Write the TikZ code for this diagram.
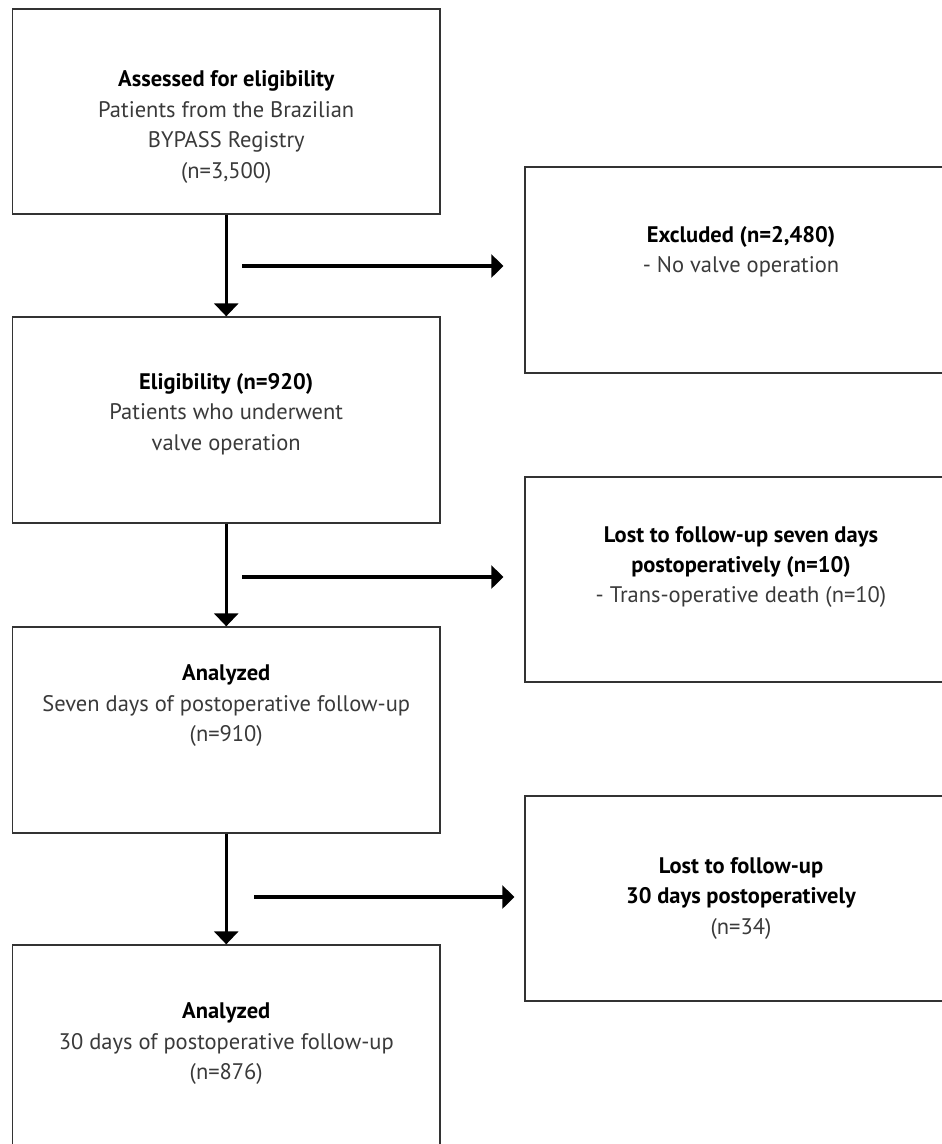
\documentclass[tikz,border=0pt]{standalone}
\usepackage{fontspec}
\setmainfont{PT Sans}
\usetikzlibrary{arrows.meta}
\definecolor{boxline}{HTML}{333333}
\definecolor{txt}{HTML}{3A3A3A}
\tikzset{
  box/.style={draw=boxline, line width=1.3pt, fill=white, inner sep=0pt},
  lbl/.style={align=center, inner sep=0pt, text=txt, font=\fontsize{22.5}{30.5}\selectfont},
  downarr/.style={line width=3pt, -{Triangle[width=24pt,length=13pt]}},
  sidearr/.style={line width=4.2pt, -{Triangle[width=23pt,length=12pt]}},
}
\newcommand{\hd}[1]{\textbf{\color{black}#1}}
\begin{document}
\begin{tikzpicture}[x=1pt,y=-1pt]
\useasboundingbox (0,0) rectangle (942,1144);
\clip (0,0) rectangle (942,1144);
% left boxes
\node[box, minimum width=427.5pt, minimum height=205pt] (b1) at (226.25,111.5) {};
\node[box, minimum width=427.5pt, minimum height=206pt] (b2) at (226.25,420) {};
\node[box, minimum width=427.5pt, minimum height=206pt] (b3) at (226.25,730) {};
\node[box, minimum width=427.5pt, minimum height=260pt] (b4) at (226.25,1075) {};
% right boxes
\node[box, minimum width=435pt, minimum height=206pt] (r1) at (742.5,270) {};
\node[box, minimum width=435pt, minimum height=205pt] (r2) at (742.5,579.5) {};
\node[box, minimum width=435pt, minimum height=205pt] (r3) at (742.5,898.5) {};
% texts
\node[lbl] (t1) at (226.25,127) {\hd{Assessed for eligibility}\\Patients from the Brazilian\\BYPASS Registry\\(n=3,500)};
\node[lbl] (t2) at (226.25,414) {\hd{Eligibility (n=920)}\\Patients who underwent\\valve operation};
\node[lbl] (t3) at (226.25,706) {\hd{Analyzed}\\Seven days of postoperative follow-up\\(n=910)};
\node[lbl] (t4) at (226.25,1044) {\hd{Analyzed}\\30 days of postoperative follow-up\\(n=876)};
\node[lbl] (u1) at (741,251.5) {\hd{Excluded (n=2,480)}\\- No valve operation};
\node[lbl] (u2) at (741,567) {\hd{Lost to follow-up seven days}\\\hd{postoperatively (n=10)}\\- Trans-operative death (n=10)};
\node[lbl] (u3) at (741,898) {\hd{Lost to follow-up}\\\hd{30 days postoperatively}\\(n=34)};
% vertical arrows
\draw[downarr] (b1.south) -- (b2.north);
\draw[downarr] (b2.south) -- (b3.north);
\draw[downarr] (b3.south) -- (b4.north);
% side arrows
\coordinate (s1) at (242,266);
\coordinate (s2) at (242,577);
\coordinate (s3) at (254,897);
\draw[sidearr, shorten >=21pt] (s1) -- (s1 -| r1.west);
\draw[sidearr, shorten >=21pt] (s2) -- (s2 -| r2.west);
\draw[sidearr, shorten >=10pt] (s3) -- (s3 -| r3.west);
\end{tikzpicture}
\end{document}
